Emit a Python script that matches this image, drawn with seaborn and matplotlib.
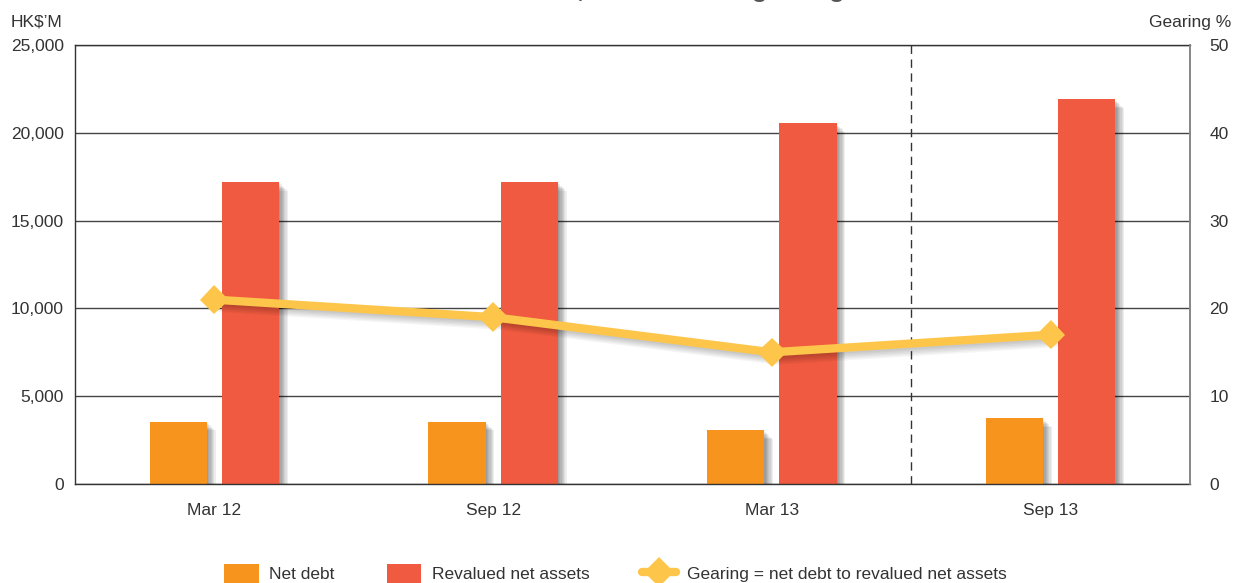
import matplotlib
matplotlib.use("Agg")
import matplotlib.pyplot as plt
import matplotlib.patheffects as pe
from matplotlib.lines import Line2D
from matplotlib.patches import Patch
import seaborn as sns
import pandas as pd
import numpy as np

periods = ["Mar 12", "Sep 12", "Mar 13", "Sep 13"]
net_debt = [3550, 3550, 3050, 3750]
revalued_net_assets = [17200, 17200, 20550, 21900]
gearing = [21, 19, 15, 17]

c_debt = "#F7941D"
c_assets = "#F05A40"
c_gear = "#FDC64B"
txt = "#333333"

sns.set_theme(style="white")
plt.rcParams["font.family"] = ["Liberation Sans", "DejaVu Sans"]

df = pd.DataFrame({
    "period": periods * 2,
    "value": net_debt + revalued_net_assets,
    "series": ["Net debt"] * 4 + ["Revalued net assets"] * 4,
})

fig = plt.figure(figsize=(12.33, 5.83), dpi=100)
ax = fig.add_axes([75 / 1233, 1 - 484 / 583, 1115 / 1233, 439 / 583])

sns.barplot(data=df, x="period", y="value", hue="series", order=periods,
            palette=[c_debt, c_assets], width=0.52, gap=0.21, ax=ax,
            legend=False, saturation=1, linewidth=0, edgecolor="none")

bar_shadow = [pe.SimplePatchShadow(offset=(0.9 * k, -0.9 * k), shadow_rgbFace="#000000", alpha=0.065)
              for k in range(7, 0, -1)] + [pe.Normal()]
for p in ax.patches:
    p.set_path_effects(bar_shadow)

ax.set_xlim(-0.5, 3.5)
ax.set_ylim(0, 25000)
ax.set_yticks(np.arange(0, 25001, 5000))
ax.set_yticklabels([f"{v:,}" for v in range(0, 25001, 5000)])
ax.set_xlabel("")
ax.set_ylabel("")
ax.set_axisbelow(True)
ax.grid(axis="y", color="#444444", lw=1)
ax.grid(axis="x", visible=False)
for s in ["top", "left", "bottom"]:
    ax.spines[s].set_color("#333333")
    ax.spines[s].set_linewidth(1)
ax.spines["right"].set_color("#888888")
ax.tick_params(axis="y", length=0, labelsize=12.5, labelcolor=txt, pad=8)
ax.tick_params(axis="x", which="major", length=0, labelsize=12.5, labelcolor=txt, pad=14)
ax.set_xticks([0.5, 1.5], minor=True)
ax.tick_params(axis="x", which="minor", direction="in", length=9, color="#888888", width=1.2)
ax.axvline(2.5, ls=(0, (6, 4)), color="#333333", lw=1)

line_shadow = [pe.SimpleLineShadow(offset=(0.6 * k, -1.0 * k), shadow_color="#000000", alpha=0.04)
               for k in range(6, 0, -1)] + [pe.Normal()]
ax2 = ax.twinx()
sns.lineplot(x=np.arange(len(periods)), y=gearing, ax=ax2, color=c_gear, lw=6,
             marker="D", markersize=15, markeredgewidth=0, sort=False,
             path_effects=line_shadow)
ax2.set_ylim(0, 50)
ax2.set_yticks(np.arange(0, 51, 10))
ax2.tick_params(axis="y", length=0, labelsize=12.5, labelcolor=txt, pad=14)
ax2.set_xlim(-0.5, 3.5)
ax2.grid(False)
for s in ["top", "left", "bottom"]:
    ax2.spines[s].set_visible(False)
ax2.spines["right"].set_color("#888888")

fig.text(11 / 1233, 1 - 22 / 583, "HK$\u2019M", fontsize=12.5, color=txt, va="center", ha="left")
fig.text(1231 / 1233, 1 - 22 / 583, "Gearing %", fontsize=12.5, color=txt, va="center", ha="right")
fig.text(845 / 1233, 1 + 3 / 583, "Revalued net assets, net debt and gearing", fontsize=18.5,
         fontweight="bold", color="#555555", va="baseline", ha="right")

handles = [
    Patch(facecolor=c_debt, edgecolor="none"),
    Patch(facecolor=c_assets, edgecolor="none"),
    Line2D([], [], color=c_gear, lw=6, marker="D", markersize=15, markeredgewidth=0),
]
labels = ["Net debt", "Revalued net assets", "Gearing = net debt to revalued net assets"]
fig.legend(handles, labels, loc="lower center", bbox_to_anchor=(0.499, -0.028), ncol=3,
           frameon=False, fontsize=12.5, handlelength=2.0, handleheight=1.4,
           columnspacing=3.0, handletextpad=0.6, labelcolor=txt)

fig.savefig("out.png", dpi=100)
